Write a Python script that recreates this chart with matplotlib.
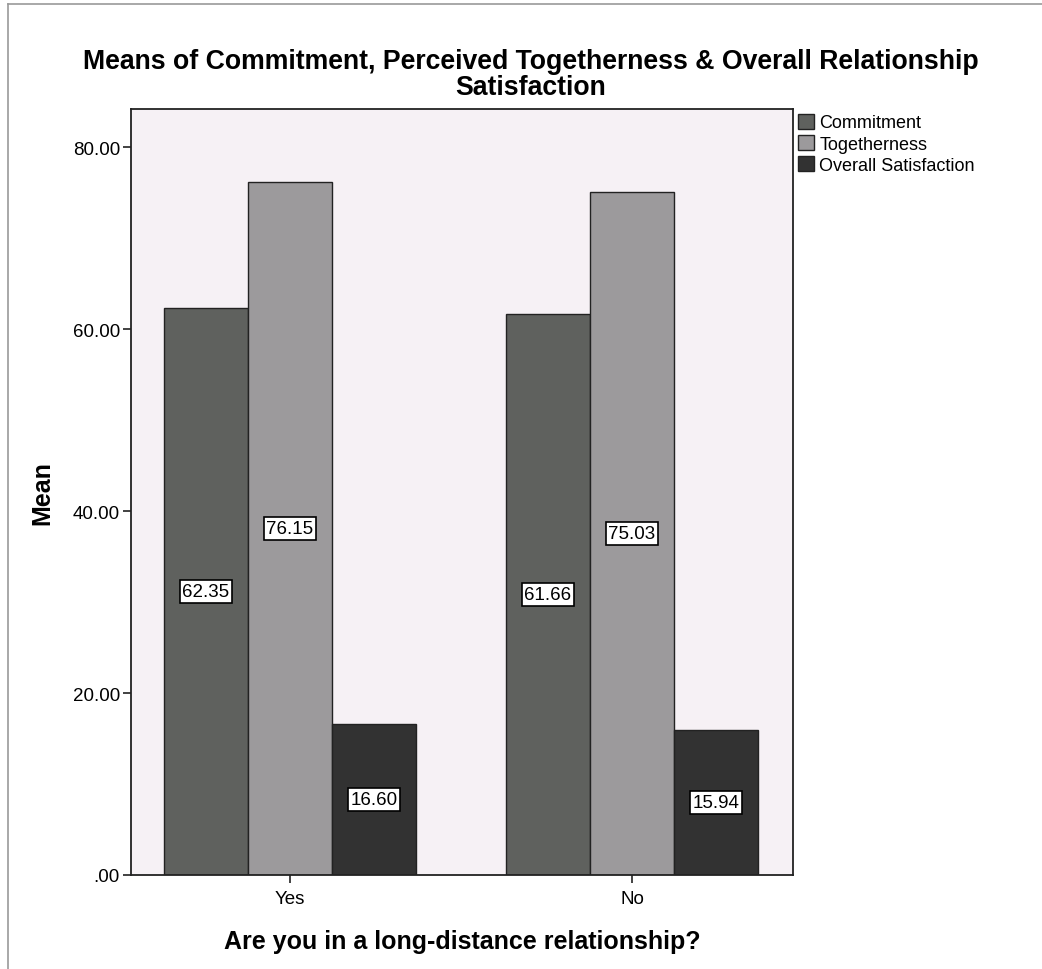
import numpy as np
import matplotlib.pyplot as plt
from matplotlib.lines import Line2D

plt.rcParams['font.family'] = ['Liberation Sans', 'DejaVu Sans']

# data
groups = ['Yes', 'No']
series = ['Commitment', 'Togetherness', 'Overall Satisfaction']
commitment = [62.35, 61.66]
togetherness = [76.15, 75.03]
satisfaction = [16.60, 15.94]
colors = ['#5f615e', '#9c9a9c', '#323232']

W, H = 1042, 970
fig = plt.figure(figsize=(W / 100, H / 100), dpi=100)
ax = fig.add_axes([131 / W, 1 - 876 / H, (793 - 131) / W, (876 - 110) / H])
ax.set_facecolor('#f6f1f5')

x = np.arange(len(groups))
w = 84 / 342
vals = [commitment, togetherness, satisfaction]
for i, (name, v, c) in enumerate(zip(series, vals, colors)):
    bars = ax.bar(x + (i - 1) * w, v, w, color=c, edgecolor='#222222', linewidth=1, label=name)
    for b, val in zip(bars, v):
        ax.text(b.get_x() + b.get_width() / 2, val / 2, '%.2f' % val,
                ha='center', va='center', fontsize=13.5,
                bbox=dict(boxstyle='square,pad=0.15', fc='white', ec='black', lw=1.2))

ax.set_xlim(-0.465, 1.471)
ax.set_ylim(0, 84.18)
ax.set_yticks([0, 20, 40, 60, 80])
ax.set_yticklabels(['.00', '20.00', '40.00', '60.00', '80.00'])
ax.set_xticks(x)
ax.set_xticklabels(groups)
ax.tick_params(labelsize=13.5, length=6, width=1.2, color='#222222', pad=2)
ax.tick_params(axis='x', pad=5)
for s in ax.spines.values():
    s.set_linewidth(1.3)
    s.set_color('#222222')

ax.set_ylabel('Mean', fontsize=18, fontweight='bold', labelpad=13)
ax.set_xlabel('Are you in a long-distance relationship?', fontsize=18, fontweight='bold', labelpad=16)

fig.text(531 / W, 1 - 75 / H,
         'Means of Commitment, Perceived Togetherness & Overall Relationship\nSatisfaction',
         ha='center', va='center', fontsize=19.2, fontweight='bold', linespacing=1.0)

ax.legend(loc='upper left', bbox_to_anchor=(1.0, 1.0), frameon=False, fontsize=13,
          handlelength=0.9, handleheight=0.9, handletextpad=0.3, labelspacing=0.2,
          borderaxespad=0.15, borderpad=0.1)

fig.add_artist(Line2D([8 / W, 8 / W], [0, 1 - 5 / H], color='#999999', lw=1.2))
fig.add_artist(Line2D([8 / W, 1], [1 - 5 / H, 1 - 5 / H], color='#999999', lw=1.2))

fig.savefig('out.png', dpi=100)
